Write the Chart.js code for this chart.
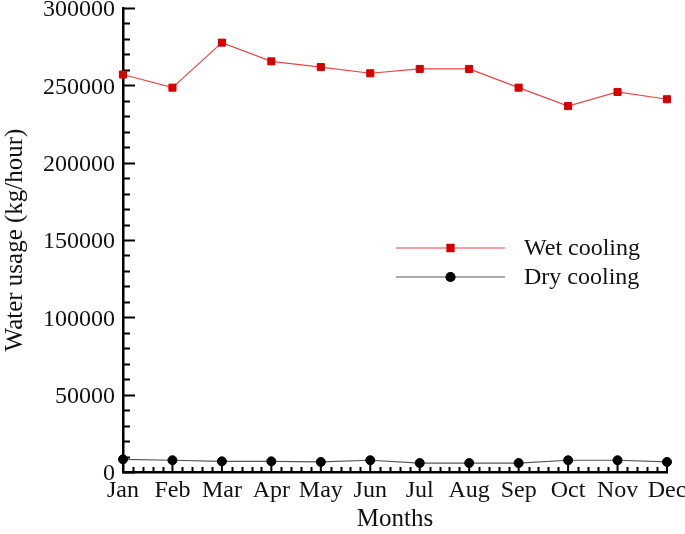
<!DOCTYPE html>
<html>
<head>
<meta charset="utf-8">
<script src="https://cdn.jsdelivr.net/npm/chart.js@4.4.0/dist/chart.umd.min.js"></script>
<style>
  html, body { margin: 0; padding: 0; background: #fff; }
</style>
</head>
<body>
<canvas id="chart" width="685" height="534"></canvas>
<script>
// data
const months = ['Jan','Feb','Mar','Apr','May','Jun','Jul','Aug','Sep','Oct','Nov','Dec'];
const wetCooling = [257000, 248500, 277600, 265500, 261800, 257800, 260600, 260600, 248500, 236600, 245700, 241000];
const dryCooling = [8200, 7600, 6900, 6900, 6500, 7600, 5800, 5800, 5800, 7600, 7600, 6500];
const seriesNames = ['Wet cooling', 'Dry cooling'];
const yMin = 0, yMax = 300000, yStep = 50000, yMinorStep = 10000;

const serif = "'Liberation Serif', 'Times New Roman', serif";

// ticks pointing into the plot, like the original figure
const innerTicks = {
  id: 'innerTicks',
  beforeDatasetsDraw(chart) {
    const ctx = chart.ctx, x = chart.scales.x, y = chart.scales.y;
    const area = chart.chartArea;
    ctx.save();
    ctx.strokeStyle = '#000';
    ctx.lineWidth = 2;
    ctx.beginPath();
    for (let v = yMin; v <= yMax; v += yMinorStep) {
      const py = Math.round(y.getPixelForValue(v)) + 0.5;
      const len = v % yStep === 0 ? 12 : 7;
      ctx.moveTo(area.left, py);
      ctx.lineTo(area.left + len, py);
    }
    for (let i = 0; i < months.length; i++) {
      const px = x.getPixelForValue(i);
      ctx.moveTo(px, area.bottom);
      ctx.lineTo(px, area.bottom - 9);
      if (i < months.length - 1) {
        const nx = x.getPixelForValue(i + 1);
        for (let k = 1; k < 5; k++) {
          const mx = Math.round(px + (nx - px) * k / 5) + 0.5;
          ctx.moveTo(mx, area.bottom);
          ctx.lineTo(mx, area.bottom - 5);
        }
      }
    }
    ctx.stroke();
    ctx.restore();
  }
};

// legend sitting inside the plot area, on the right
const insideLegend = {
  id: 'insideLegend',
  afterDraw(chart) {
    const ctx = chart.ctx;
    const area = chart.chartArea;
    const x0 = area.left + 273, x1 = area.left + 382, xm = (x0 + x1) / 2;
    chart.data.datasets.forEach((ds, i) => {
      const yy = area.top + 240 + i * 29;
      ctx.save();
      ctx.strokeStyle = ds.borderColor;
      ctx.lineWidth = 1.2;
      ctx.beginPath();
      ctx.moveTo(x0, yy);
      ctx.lineTo(x1, yy);
      ctx.stroke();
      ctx.fillStyle = ds.pointBackgroundColor;
      ctx.strokeStyle = ds.pointBorderColor;
      Chart.helpers.drawPoint(ctx, { pointStyle: ds.pointStyle, radius: ds.pointRadius, borderWidth: 1, rotation: 0 }, xm, yy);
      ctx.fillStyle = '#111';
      ctx.font = '24px ' + serif;
      ctx.textBaseline = 'middle';
      ctx.textAlign = 'left';
      ctx.fillText(ds.label, x1 + 19, yy + 1);
      ctx.restore();
    });
  }
};

new Chart(document.getElementById('chart'), {
  type: 'line',
  data: {
    labels: months,
    datasets: [{
      label: seriesNames[0],
      data: wetCooling,
      borderColor: '#e84545',
      borderWidth: 1.2,
      pointStyle: 'rect',
      pointRadius: 5,
      pointBackgroundColor: '#d40000',
      pointBorderColor: '#d40000',
      pointBorderWidth: 1,
      tension: 0
    }, {
      label: seriesNames[1],
      data: dryCooling,
      borderColor: '#555',
      borderWidth: 1.2,
      pointStyle: 'circle',
      pointRadius: 4.5,
      pointBackgroundColor: '#000',
      pointBorderColor: '#000',
      pointBorderWidth: 1,
      tension: 0
    }]
  },
  options: {
    responsive: false,
    animation: false,
    devicePixelRatio: 1,
    layout: { padding: { top: 8, right: 18, left: 0, bottom: 0 } },
    plugins: {
      legend: { display: false },
      tooltip: { enabled: false }
    },
    scales: {
      x: {
        type: 'category',
        offset: false,
        grid: { display: false, drawTicks: false },
        border: { display: true, color: '#000', width: 2.5 },
        ticks: {
          autoSkip: false, maxRotation: 0, padding: 4,
          color: '#111', font: { family: serif, size: 24 }
        },
        title: {
          display: true, text: 'Months', color: '#111',
          font: { family: serif, size: 25 }, padding: 0
        },
        afterFit(scale) {
          scale.height = 62;
          scale.paddingLeft = 0;
          scale.paddingRight = 0;
        }
      },
      y: {
        min: yMin, max: yMax,
        grid: { display: false, drawTicks: false },
        border: { display: true, color: '#000', width: 2.5 },
        ticks: {
          stepSize: yStep, padding: 8, labelOffset: 2,
          color: '#111', font: { family: serif, size: 24 },
          callback: v => String(v)
        },
        title: {
          display: true, text: 'Water usage (kg/hour)', color: '#111',
          font: { family: serif, size: 25 }, padding: 0
        },
        afterFit(scale) {
          scale.width = 123;
          scale.paddingTop = 0;
          scale.paddingBottom = 0;
        }
      }
    }
  },
  plugins: [innerTicks, insideLegend]
});
</script>
</body>
</html>
